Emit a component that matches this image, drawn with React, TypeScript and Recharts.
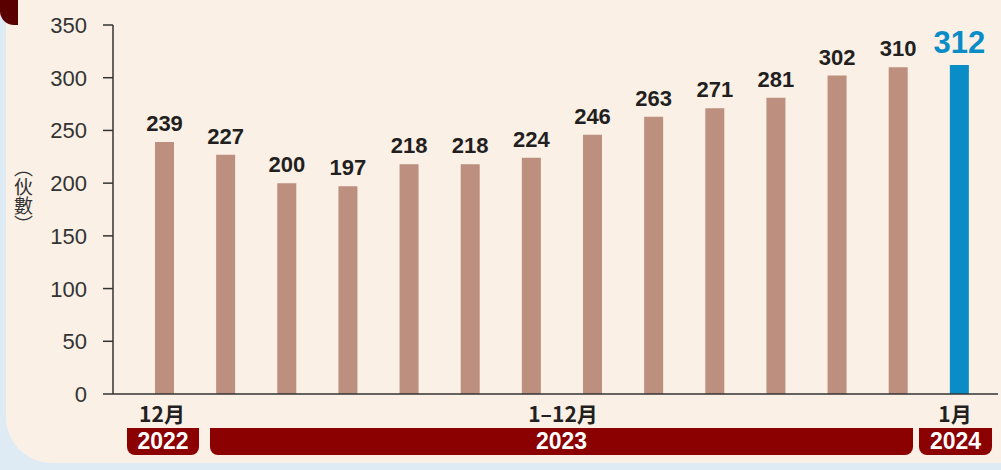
import { BarChart, Bar, XAxis, YAxis, Cell, LabelList } from 'recharts'

const months = [
  '2022-12', '2023-01', '2023-02', '2023-03', '2023-04', '2023-05', '2023-06',
  '2023-07', '2023-08', '2023-09', '2023-10', '2023-11', '2023-12', '2024-01',
]
const households = [239, 227, 200, 197, 218, 218, 224, 246, 263, 271, 281, 302, 310, 312]
const yTicks = [0, 50, 100, 150, 200, 250, 300, 350]

const periodLabels = ['12月', '1–12月', '1月']
const yearLabels = ['2022', '2023', '2024']

const data = months.map((m, i) => ({ month: m, value: households[i] }))
const lastIndex = data.length - 1

const BROWN = '#bc8f7e'
const BLUE = '#0a8cc6'
const RED = '#8b0000'
const INK = '#231f20'
const SANS = "'Liberation Sans', Arial, sans-serif"

function ValueLabel(props: any) {
  const { x, y, width, value, index } = props
  const last = index === lastIndex
  return (
    <text
      x={x + width / 2}
      y={y - (last ? 12 : 11)}
      textAnchor="middle"
      fontFamily={SANS}
      fontWeight="bold"
      fontSize={last ? 31 : 22}
      fill={last ? BLUE : INK}
    >
      {value}
    </text>
  )
}

function YTick(props: any) {
  const { x, y, payload } = props
  return (
    <text x={x} y={y} dy={8} textAnchor="end" fontFamily={SANS} fontSize={22} fill="#333">
      {payload.value}
    </text>
  )
}

// period + year ribbons under the axis
const ribbons = [
  { left: 127, width: 72, center: 162 },
  { left: 210, width: 703, center: 563 },
  { left: 919, width: 73, center: 955 },
]

export default function App() {
  return (
    <div style={{ position: 'fixed', left: 0, top: 0, width: 1001, height: 470, background: '#deebf5', overflow: 'hidden' }}>
      {/* cream panel */}
      <div
        style={{
          position: 'absolute', left: 6, top: -20, width: 1060, height: 483,
          background: '#faf0e6', borderBottomLeftRadius: 46, borderBottomRightRadius: 60,
        }}
      />
      <div
        style={{
          position: 'absolute', left: 0, top: 0, width: 18, height: 25,
          background: '#5a0000', borderBottomLeftRadius: 14,
        }}
      />

      <div
        style={{
          position: 'absolute', left: 14, top: 158, writingMode: 'vertical-rl',
          fontFamily: "'Noto Sans CJK TC', sans-serif", fontSize: 19, color: '#333', lineHeight: 1,
        }}
      >
        ︵伙數︶
      </div>

      <div style={{ position: 'absolute', left: 0, top: 0 }}>
        <BarChart width={1001} height={470} data={data} margin={{ top: 25, right: 3, bottom: 46, left: 0 }}>
          <XAxis
            dataKey="month"
            tick={false}
            tickLine={false}
            height={30}
            padding={{ left: 21, right: 8 }}
            axisLine={{ stroke: '#333', strokeWidth: 1.5 }}
          />
          <YAxis
            width={113}
            domain={[0, 350]}
            ticks={yTicks}
            interval={0}
            tickSize={10}
            tickMargin={16}
            axisLine={{ stroke: '#333', strokeWidth: 1.5 }}
            tickLine={{ stroke: '#333', strokeWidth: 1.5 }}
            tick={YTick}
          />
          <Bar dataKey="value" barSize={19} isAnimationActive={false}>
            {data.map((d, i) => (
              <Cell key={d.month} fill={i === lastIndex ? BLUE : BROWN} />
            ))}
            <LabelList dataKey="value" content={ValueLabel} />
          </Bar>
        </BarChart>
      </div>

      {ribbons.map((r, i) => (
        <div key={yearLabels[i]}>
          <div
            style={{
              position: 'absolute', left: r.center - 60, width: 120, top: 400, textAlign: 'center',
              fontFamily: "'Noto Sans CJK TC', sans-serif", fontWeight: 'bold', fontSize: 21,
              color: INK, lineHeight: '26px',
            }}
          >
            {periodLabels[i]}
          </div>
          <div
            style={{
              position: 'absolute', left: r.left, width: r.width, top: 428, height: 27,
              background: RED, borderBottomLeftRadius: 8, borderBottomRightRadius: 8,
              color: '#fff', textAlign: 'center', lineHeight: '27px',
              fontFamily: SANS, fontWeight: 'bold', fontSize: 23,
            }}
          >
            {yearLabels[i]}
          </div>
        </div>
      ))}
    </div>
  )
}
